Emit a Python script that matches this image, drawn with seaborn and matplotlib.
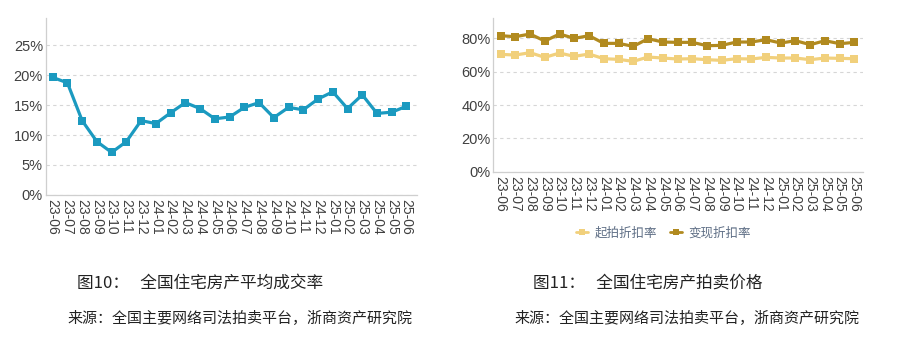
import matplotlib
matplotlib.use("Agg")
import matplotlib.pyplot as plt
import seaborn as sns
import pandas as pd
import numpy as np
from matplotlib.ticker import FixedLocator, FuncFormatter
from matplotlib.lines import Line2D

months = ["23-06", "23-07", "23-08", "23-09", "23-10", "23-11", "23-12",
          "24-01", "24-02", "24-03", "24-04", "24-05", "24-06", "24-07",
          "24-08", "24-09", "24-10", "24-11", "24-12", "25-01", "25-02",
          "25-03", "25-04", "25-05", "25-06"]
deal_rate = [19.6, 18.7, 12.4, 8.9, 7.1, 8.9, 12.4, 11.9, 13.7, 15.4, 14.4,
             12.7, 13.0, 14.6, 15.4, 12.9, 14.6, 14.2, 16.0, 17.2, 14.4,
             16.7, 13.6, 13.8, 14.8]
start_discount = [70.4, 70.0, 71.4, 68.6, 71.2, 69.2, 70.6, 67.8, 67.4, 66.2,
                  68.8, 68.2, 67.6, 67.8, 67.2, 66.8, 67.8, 67.6, 68.6, 68.2,
                  68.2, 67.2, 68.2, 68.0, 67.8]
real_discount = [81.6, 81.0, 82.6, 78.4, 82.6, 80.0, 81.6, 77.0, 77.0, 75.2,
                 79.8, 77.8, 77.6, 77.6, 75.6, 75.8, 77.8, 77.8, 79.2, 77.2,
                 78.6, 76.2, 78.6, 76.8, 77.6]
series_names = ["起拍折扣率", "变现折扣率"]
left_yticks = [0, 5, 10, 15, 20, 25]
right_yticks = [0, 20, 40, 60, 80]
title_left = "图10：   全国住宅房产平均成交率"
title_right = "图11：   全国住宅房产拍卖价格"
source_text = "来源：全国主要网络司法拍卖平台，浙商资产研究院"

sns.set_theme(style="white")
plt.rcParams['font.family'] = ['Liberation Sans', 'Noto Sans CJK SC', 'DejaVu Sans']

fig = plt.figure(figsize=(9, 3.4), dpi=100)
fig.patch.set_facecolor("white")

x = np.arange(len(months))
df_left = pd.DataFrame({"x": x, "rate": deal_rate})
df_right = pd.DataFrame({
    "x": np.concatenate([x, x]),
    "value": start_discount + real_discount,
    "series": [series_names[0]] * len(months) + [series_names[1]] * len(months),
})

tick_color = "#404040"
spine_color = "#cfcfcf"
grid_color = "#d6d6d6"


def style_axes(ax, yticks, ylim, xlim):
    ax.set_xlim(*xlim)
    ax.set_ylim(*ylim)
    ax.set_yticks(yticks)
    ax.yaxis.set_major_formatter(FuncFormatter(lambda v, p: f"{int(v)}%"))
    ax.set_xticks(x)
    ax.set_xticklabels(months, rotation=-90, fontsize=10, color=tick_color)
    ax.xaxis.set_minor_locator(FixedLocator(np.arange(-0.5, len(months), 1.0)))
    ax.tick_params(axis="x", which="major", length=0, pad=3)
    ax.tick_params(axis="x", which="minor", length=3, color=spine_color, width=0.8)
    ax.tick_params(axis="y", length=0, labelsize=10.5, labelcolor=tick_color, pad=2)
    for s in ["top", "right"]:
        ax.spines[s].set_visible(False)
    for s in ["left", "bottom"]:
        ax.spines[s].set_color(spine_color)
        ax.spines[s].set_linewidth(0.9)
    ax.yaxis.grid(True, linestyle=(0, (3, 3)), color=grid_color, linewidth=0.8)
    ax.set_axisbelow(True)
    ax.set_xlabel("")
    ax.set_ylabel("")
    ax.set_facecolor("white")


ax1 = fig.add_axes([0.0508, 0.4265, 0.412, 0.5205])
sns.lineplot(data=df_left, x="x", y="rate", ax=ax1, color="#1b9ac0",
             marker="s", markersize=5.5, markeredgewidth=0, linewidth=2.3)
style_axes(ax1, left_yticks, (0, 29.5), (-0.47, 24.68))

ax2 = fig.add_axes([0.548, 0.495, 0.4106, 0.451])
palette = {series_names[0]: "#f1d07c", series_names[1]: "#b18a1f"}
sns.lineplot(data=df_right, x="x", y="value", hue="series", palette=palette,
             ax=ax2, marker="s", markersize=5.5, markeredgewidth=0,
             linewidth=2.3, legend=False)
style_axes(ax2, right_yticks, (0, 92), (-0.5, 24.56))

handles = [Line2D([0], [0], color=palette[n], marker="s", markersize=5,
                  markeredgewidth=0, linewidth=2) for n in series_names]
fig.legend(handles, series_names, loc="center", bbox_to_anchor=(0.737, 0.315),
           ncol=2, frameon=False, handlelength=1.0,
           handletextpad=0.5, columnspacing=1.0, labelcolor="#5e6e85",
           prop={"family": ["Noto Sans CJK SC"], "size": 9})

fig.text(0.0855, 1 - 283 / 340, title_left, fontsize=12, color="#222222",
         ha="left", va="center", family=["Noto Sans CJK SC", "DejaVu Sans"])
fig.text(0.592, 1 - 283 / 340, title_right, fontsize=12, color="#222222",
         ha="left", va="center", family=["Noto Sans CJK SC", "DejaVu Sans"])
fig.text(0.075, 1 - 318 / 340, source_text, fontsize=10.8, color="#222222",
         ha="left", va="center", family=["Noto Sans CJK SC", "DejaVu Sans"])
fig.text(0.572, 1 - 318 / 340, source_text, fontsize=10.8, color="#222222",
         ha="left", va="center", family=["Noto Sans CJK SC", "DejaVu Sans"])

fig.savefig("out.png", dpi=100, facecolor="white")
